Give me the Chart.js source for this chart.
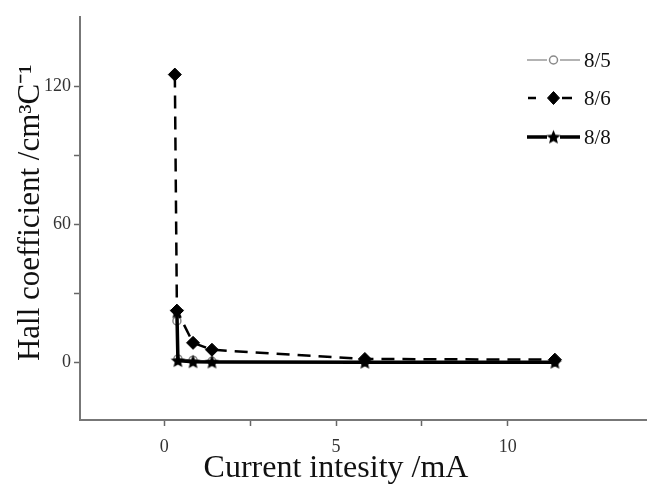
<!DOCTYPE html>
<html>
<head>
<meta charset="utf-8">
<script src="https://cdn.jsdelivr.net/npm/chart.js@4/dist/chart.umd.min.js"></script>
<style>
html,body{margin:0;padding:0;background:#fff;}
#wrap{width:647px;height:486px;position:relative;}
</style>
</head>
<body>
<div id="wrap"><canvas id="c" width="647" height="486"></canvas></div>
<script>
// ---- data (x relative to the drawn axis) ----
const seriesNames = ['8/5', '8/6', '8/8'];
const x85 = [0.37, 0.40, 0.84, 1.39, 5.84, 11.37];
const y85 = [18, 1.5, 1.0, 0.5, 0.3, 0.3];
const x86 = [0.31, 0.37, 0.84, 1.39, 5.84, 11.37];
const y86 = [125, 22.5, 8.5, 5.5, 1.5, 1.2];
const x88 = [0.37, 0.40, 0.84, 1.39, 5.84, 11.37];
const y88 = [22, 0.8, 0.3, 0.2, 0.1, 0.1];
const xTickValues = [0, 2.5, 5, 7.5, 10];
const xTickLabels = ['0', '', '5', '', '10'];
const yTickValues = [0, 30, 60, 90, 120];
const yTickLabels = ['0', '', '60', '', '120'];
const xTitle = 'Current intesity /mA';
const yTitle = 'Hall coefficient /cm\u00B3C\u207B\u00B9';

const pts = (xs, ys) => xs.map((x, i) => ({x: x, y: ys[i]}));

function makeStar(r) {
  const c = document.createElement('canvas');
  const s = Math.ceil(2 * r + 2);
  c.width = s; c.height = s;
  const g = c.getContext('2d');
  g.translate(s / 2, s / 2 + 0.5);
  g.beginPath();
  for (let i = 0; i < 10; i++) {
    const rr = i % 2 === 0 ? r : r * 0.45;
    const a = -Math.PI / 2 + i * Math.PI / 5;
    const px = rr * Math.cos(a), py = rr * Math.sin(a);
    if (i === 0) g.moveTo(px, py); else g.lineTo(px, py);
  }
  g.closePath();
  g.fillStyle = '#000';
  g.fill();
  return c;
}
const starImg = makeStar(7.5);

Chart.defaults.font.family = "'Liberation Serif', 'DejaVu Serif', serif";

const datasets = [
  {
    label: seriesNames[2], data: pts(x88, y88),
    borderColor: '#000', borderWidth: 3.5, borderDash: [],
    pointStyle: starImg, pointRadius: 7.5, order: 0
  },
  {
    label: seriesNames[1], data: pts(x86, y86),
    borderColor: '#000', borderWidth: 2.5, borderDash: [13, 8],
    pointStyle: 'rectRot', pointRadius: 6.5, pointBackgroundColor: '#000',
    pointBorderColor: '#000', pointBorderWidth: 1, order: 1
  },
  {
    label: seriesNames[0], data: pts(x85, y85),
    borderColor: '#9a9a9a', borderWidth: 1.5, borderDash: [],
    pointStyle: 'circle', pointRadius: 4, pointBackgroundColor: '#fff',
    pointBorderColor: '#8a8a8a', pointBorderWidth: 1.5, order: 2
  }
];

const legendOrder = [2, 1, 0];

const decorPlugin = {
  id: 'decor',
  afterDraw(chart) {
    const ctx = chart.ctx;
    const xs = chart.scales.x, ys = chart.scales.y;
    ctx.save();
    // axis titles
    ctx.fillStyle = '#111';
    ctx.font = "32px 'Liberation Serif', serif";
    ctx.textAlign = 'center';
    ctx.textBaseline = 'middle';
    ctx.fillText(xTitle, (xs.getPixelForValue(0) + xs.getPixelForValue(10)) / 2, 469);
    ctx.font = "31px 'Liberation Serif', serif";
    ctx.translate(31, (ys.getPixelForValue(0) + ys.getPixelForValue(130)) / 2);
    ctx.rotate(-Math.PI / 2);
    ctx.fillText(yTitle, 0, 0);
    ctx.restore();

    // legend
    ctx.save();
    const rows = [60, 98, 137];
    legendOrder.forEach((di, r) => {
      const ds = chart.data.datasets[di];
      const y = rows[r];
      ctx.strokeStyle = ds.borderColor;
      ctx.lineWidth = ds.borderWidth;
      ctx.beginPath();
      if (ds.borderDash && ds.borderDash.length) {
        ctx.moveTo(528, y); ctx.lineTo(536, y);
        ctx.moveTo(562, y); ctx.lineTo(572, y);
      } else {
        ctx.moveTo(527, y); ctx.lineTo(547, y);
        ctx.moveTo(560, y); ctx.lineTo(580, y);
      }
      ctx.stroke();
      if (ds.pointStyle === starImg) {
        Chart.helpers.drawPoint(ctx, {pointStyle: starImg, rotation: 0, radius: 7.5, borderWidth: 1}, 553.5, y);
      } else {
        ctx.fillStyle = ds.pointBackgroundColor;
        ctx.strokeStyle = ds.pointBorderColor;
        ctx.lineWidth = ds.pointBorderWidth;
        ctx.beginPath();
        if (ds.pointStyle === 'circle') {
          ctx.arc(553.5, y, 4, 0, Math.PI * 2);
        } else {
          ctx.moveTo(553.5, y - 6.5); ctx.lineTo(559.5, y); ctx.lineTo(553.5, y + 6.5); ctx.lineTo(547.5, y); ctx.closePath();
        }
        ctx.fill(); ctx.stroke();
      }
      ctx.fillStyle = '#111';
      ctx.font = "21px 'Liberation Serif', serif";
      ctx.textAlign = 'left';
      ctx.textBaseline = 'middle';
      ctx.fillText(ds.label, 584, y + 1);
    });
    ctx.restore();
  }
};

new Chart(document.getElementById('c'), {
  type: 'line',
  data: {datasets: datasets},
  options: {
    responsive: false,
    animation: false,
    devicePixelRatio: 1,
    layout: {autoPadding: false, padding: {top: 17, right: 0, left: 0, bottom: 0}},
    plugins: {legend: {display: false}, tooltip: {enabled: false}},
    elements: {line: {tension: 0, fill: false}},
    scales: {
      x: {
        type: 'linear', min: -2.45, max: 14.05,
        afterBuildTicks: s => { s.ticks = xTickValues.map(v => ({value: v})); },
        afterFit: s => { s.height = 66; },
        ticks: {
          callback: (v, i) => xTickLabels[i],
          color: '#333', padding: 10, maxRotation: 0, autoSkip: false,
          font: {size: 18}
        },
        grid: {display: true, drawOnChartArea: false, drawTicks: true, tickLength: 6,
          tickColor: '#666', tickWidth: 1.5},
        border: {display: true, color: '#777', width: 2}
      },
      y: {
        type: 'linear', min: -25, max: 150,
        afterBuildTicks: s => { s.ticks = yTickValues.map(v => ({value: v})); },
        afterFit: s => { s.width = 80; },
        ticks: {
          callback: (v, i) => yTickLabels[i],
          color: '#333', padding: 3, autoSkip: false,
          font: {size: 18}
        },
        grid: {display: true, drawOnChartArea: false, drawTicks: true, tickLength: 6,
          tickColor: '#666', tickWidth: 1.5},
        border: {display: true, color: '#777', width: 2}
      }
    }
  },
  plugins: [decorPlugin]
});
</script>
</body>
</html>
